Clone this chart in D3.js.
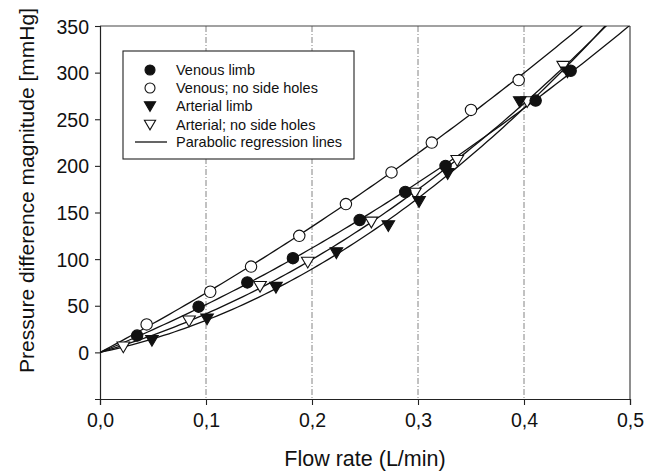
<!DOCTYPE html>
<html>
<head>
    <title>Pressure difference vs flow rate</title>
    <script src="https://d3js.org/d3.v7.min.js"></script>
    <style>
        body { margin: 0; background: #fff; }
        text { font-family: "Liberation Sans", Arial, sans-serif; fill: #111; }
    </style>
</head>
<body>
    <svg id="chart"></svg>
    <script>
        // values
        const venousX = [0.035, 0.093, 0.139, 0.182, 0.245, 0.288, 0.326, 0.411, 0.444];
        const venousY = [18, 49, 75, 101, 142, 172, 200, 270, 302];
        const venousNoHolesX = [0.044, 0.104, 0.1425, 0.188, 0.232, 0.275, 0.313, 0.350, 0.395];
        const venousNoHolesY = [30, 65, 92, 125, 159, 193, 225, 260, 292];
        const arterialX = [0.049, 0.101, 0.166, 0.223, 0.272, 0.301, 0.328, 0.396, 0.441];
        const arterialY = [13, 36, 70, 107, 136, 162, 192, 269, 301];
        const arterialNoHolesX = [0.022, 0.084, 0.151, 0.196, 0.256, 0.297, 0.337, 0.403, 0.437];
        const arterialNoHolesY = [6, 34, 71, 97, 140, 171, 206, 269, 307];

        const seriesNames = ["Venous limb", "Venous; no side holes", "Arterial limb", "Arterial; no side holes"];
        const xTicks = [0, 0.1, 0.2, 0.3, 0.4, 0.5];
        const yTicks = [0, 50, 100, 150, 200, 250, 300, 350];
        const gridX = [0.1, 0.2, 0.3, 0.4];

        const svgWidth = 659;
        const svgHeight = 472;
        const margin = { top: 26, right: 29, bottom: 73, left: 100 };
        const width = svgWidth - margin.left - margin.right;
        const height = svgHeight - margin.top - margin.bottom;

        const root = d3.select("#chart")
            .attr("width", svgWidth)
            .attr("height", svgHeight);
        const svg = root.append("g")
            .attr("transform", `translate(${margin.left}, ${margin.top})`);

        const xScale = d3.scaleLinear().domain([0, 0.5]).range([0, width]);
        const yScale = d3.scaleLinear().domain([-50, 350]).range([height, 0]);

        const series = [
            { name: seriesNames[0], xs: venousX, ys: venousY, shape: "circle", filled: true },
            { name: seriesNames[1], xs: venousNoHolesX, ys: venousNoHolesY, shape: "circle", filled: false },
            { name: seriesNames[2], xs: arterialX, ys: arterialY, shape: "tri", filled: true },
            { name: seriesNames[3], xs: arterialNoHolesX, ys: arterialNoHolesY, shape: "tri", filled: false }
        ];

        // parabolic regression through the origin: y = b x + c x^2
        function fitParabola(xs, ys) {
            let s2 = 0, s3 = 0, s4 = 0, sxy = 0, sx2y = 0;
            xs.forEach((x, i) => {
                const y = ys[i];
                s2 += x * x; s3 += x * x * x; s4 += x * x * x * x;
                sxy += x * y; sx2y += x * x * y;
            });
            const det = s2 * s4 - s3 * s3;
            return { b: (sxy * s4 - s3 * sx2y) / det, c: (s2 * sx2y - s3 * sxy) / det };
        }

        // clip for regression lines
        svg.append("clipPath").attr("id", "plot-clip")
            .append("rect").attr("width", width).attr("height", height);

        // dashed vertical grid
        svg.selectAll(".grid")
            .data(gridX)
            .enter().append("line")
            .attr("x1", d => xScale(d)).attr("x2", d => xScale(d))
            .attr("y1", 0).attr("y2", height)
            .attr("stroke", "#777")
            .attr("stroke-width", 0.9)
            .attr("stroke-dasharray", "6,2,1,2");

        // frame (top and right)
        svg.append("line").attr("x1", 0).attr("x2", width).attr("y1", 0).attr("y2", 0)
            .attr("stroke", "#444").attr("stroke-width", 1.2);
        svg.append("line").attr("x1", width).attr("x2", width).attr("y1", 0).attr("y2", height)
            .attr("stroke", "#444").attr("stroke-width", 1.2);

        // axes
        const xAxis = svg.append("g")
            .attr("transform", `translate(0, ${height})`)
            .call(d3.axisBottom(xScale).tickValues(xTicks).tickSize(6).tickPadding(8)
                .tickFormat(d => d3.format(".1f")(d).replace(".", ",")));
        const yAxis = svg.append("g")
            .call(d3.axisLeft(yScale).tickValues(yTicks).tickSize(5).tickPadding(6));
        [xAxis, yAxis].forEach(a => {
            a.select(".domain").attr("stroke", "#222").attr("stroke-width", 1.2);
            a.selectAll(".tick line").attr("stroke", "#222").attr("stroke-width", 1.1);
            a.selectAll(".tick text")
                .style("font-family", "'Liberation Sans', Arial, sans-serif")
                .style("font-size", "19.5px")
                .attr("fill", "#111");
        });
        yAxis.selectAll(".tick text").attr("dy", "0.36em");

        // regression lines
        const line = d3.line()
            .x(d => xScale(d[0]))
            .y(d => yScale(d[1]));
        series.forEach(s => {
            const f = fitParabola(s.xs, s.ys);
            const pts = d3.range(0, 101).map(i => {
                const x = 0.5 * i / 100;
                return [x, f.b * x + f.c * x * x];
            });
            svg.append("path")
                .datum(pts)
                .attr("clip-path", "url(#plot-clip)")
                .attr("fill", "none")
                .attr("stroke", "#111")
                .attr("stroke-width", 1.3)
                .attr("d", line);
        });

        // markers
        const triDown = r => `M${-r},${-r * 0.75}L${r},${-r * 0.75}L0,${r * 0.95}Z`;
        function drawMarker(g, s, x, y, r) {
            if (s.shape === "circle") {
                g.append("circle")
                    .attr("cx", x).attr("cy", y).attr("r", r)
                    .attr("fill", s.filled ? "#111" : "#fff")
                    .attr("stroke", "#111").attr("stroke-width", 1.1);
            } else {
                g.append("path")
                    .attr("transform", `translate(${x},${y})`)
                    .attr("d", triDown(r + 0.6))
                    .attr("fill", s.filled ? "#111" : "#fff")
                    .attr("stroke", "#111").attr("stroke-width", 1.1);
            }
        }
        const markerGroup = svg.append("g");
        [3, 2, 0, 1].forEach(k => {
            const s = series[k];
            s.xs.forEach((x, i) => drawMarker(markerGroup, s, xScale(x), yScale(s.ys[i]), 5.7));
        });

        // legend
        const legend = svg.append("g").attr("transform", "translate(23, 25)");
        legend.append("rect")
            .attr("width", 231).attr("height", 108)
            .attr("fill", "#fff").attr("stroke", "#222").attr("stroke-width", 1.1);
        const rowY = [19, 37, 55, 73.5, 91];
        series.forEach((s, i) => {
            drawMarker(legend, s, 27, rowY[i], 5);
            legend.append("text")
                .attr("x", 53).attr("y", rowY[i]).attr("dy", "0.35em")
                .style("font-size", "14.5px")
                .text(s.name);
        });
        legend.append("line")
            .attr("x1", 12).attr("x2", 44).attr("y1", rowY[4]).attr("y2", rowY[4])
            .attr("stroke", "#111").attr("stroke-width", 1.3);
        legend.append("text")
            .attr("x", 53).attr("y", rowY[4]).attr("dy", "0.35em")
            .style("font-size", "14.5px")
            .text("Parabolic regression lines");

        // axis titles
        svg.append("text")
            .attr("x", width / 2)
            .attr("y", height + 67)
            .style("text-anchor", "middle")
            .style("font-size", "21.5px")
            .text("Flow rate (L/min)");

        svg.append("text")
            .attr("transform", "rotate(-90)")
            .attr("x", -(height / 2) + 22)
            .attr("y", -66)
            .style("text-anchor", "middle")
            .style("font-size", "21px")
            .text("Pressure difference magnitude [mmHg]");
    </script>
</body>
</html>
